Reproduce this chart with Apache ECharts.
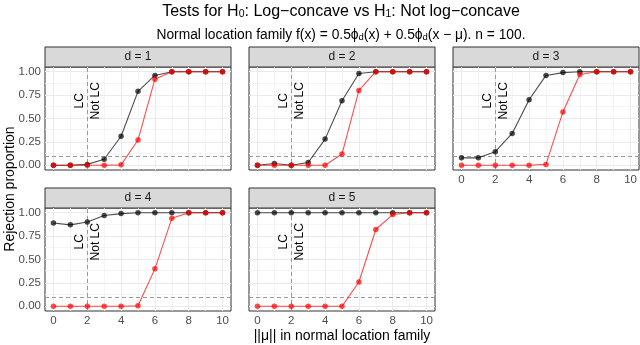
<!DOCTYPE html>
<html>
<head>
<meta charset="utf-8">
<script src="https://cdn.jsdelivr.net/npm/echarts@6/dist/echarts.min.js"></script>
<style>
  html, body { margin: 0; padding: 0; background: #fff; }
  #chart { width: 640px; height: 345px; }
</style>
</head>
<body>
<div id="chart"></div>
<script>
// ||mu|| values
const mu = [0, 1, 2, 3, 4, 5, 6, 7, 8, 9, 10]
const panelNames = ['d = 1', 'd = 2', 'd = 3', 'd = 4', 'd = 5']
// black test / red test rejection proportions
const d1Black = [0, 0, 0.01, 0.065, 0.31, 0.79, 0.96, 1, 1, 1, 1]
const d1Red = [0, 0, 0, 0, 0.005, 0.27, 0.92, 1, 1, 1, 1]
const d2Black = [0, 0.02, 0, 0.03, 0.28, 0.69, 0.98, 1, 1, 1, 1]
const d2Red = [0, 0, 0, 0, 0, 0.12, 0.8, 1, 1, 1, 1]
const d3Black = [0.08, 0.08, 0.145, 0.34, 0.7, 0.96, 0.99, 1, 1, 1, 1]
const d3Red = [0, 0, 0, 0, 0, 0.01, 0.57, 0.97, 1, 1, 1]
const d4Black = [0.89, 0.87, 0.9, 0.97, 0.99, 1, 1, 1, 1, 1, 1]
const d4Red = [0, 0, 0, 0, 0, 0.005, 0.4, 0.94, 1, 1, 1]
const d5Black = [1, 1, 1, 1, 1, 1, 1, 1, 1, 1, 1]
const d5Red = [0, 0, 0, 0, 0, 0, 0.26, 0.82, 0.98, 1, 1]
const blackSets = [d1Black, d2Black, d3Black, d4Black, d5Black]
const redSets = [d1Red, d2Red, d3Red, d4Red, d5Red]
const xTicks = [0, 2, 4, 6, 8, 10]
const xMinor = [1, 3, 5, 7, 9]
const yTicks = [0, 0.25, 0.5, 0.75, 1]
const yMinor = [0.125, 0.375, 0.625, 0.875]
const cutoff = 2      // LC / Not LC boundary
const level = 0.1     // nominal level

const FONT = '"Liberation Sans", Arial, sans-serif'
const pos = [[45, 67], [249, 67], [453, 67], [45, 208], [249, 208]]
const W = 186
const H = 103
const showX = [false, false, true, true, true]
const showY = [true, false, false, true, false]

const chart = echarts.init(document.getElementById('chart'))

const grids = pos.map(p => ({
  left: p[0], top: p[1], width: W, height: H,
  show: true, backgroundColor: '#fff', borderColor: '#333', borderWidth: 1
}))

const xAxes = pos.map((p, i) => ({
  type: 'value', gridIndex: i, min: -0.5, max: 10.5,
  splitLine: { show: false },
  axisLine: { show: true, lineStyle: { color: '#333', width: 1 } },
  axisTick: { show: showX[i], length: 3, customValues: xTicks, lineStyle: { color: '#333' } },
  axisLabel: { show: showX[i], customValues: xTicks, margin: 4, color: '#4d4d4d', fontSize: 11.5, fontFamily: FONT }
}))

const yAxes = pos.map((p, i) => ({
  type: 'value', gridIndex: i, min: -0.05, max: 1.05,
  splitLine: { show: false },
  axisLine: { show: true, lineStyle: { color: '#333', width: 1 } },
  axisTick: { show: showY[i], length: 3, customValues: yTicks, lineStyle: { color: '#333' } },
  axisLabel: {
    show: showY[i], customValues: yTicks, margin: 4, color: '#4d4d4d', fontSize: 11.5, fontFamily: FONT,
    formatter: v => v.toFixed(2)
  }
}))

function testSeries (i, values, color, z) {
  return {
    type: 'line', xAxisIndex: i, yAxisIndex: i, z: z,
    data: mu.map((x, k) => [x, values[k]]),
    symbol: 'circle', symbolSize: 5.5, showAllSymbol: true,
    lineStyle: { color: color, width: 1.1 },
    itemStyle: { color: color, borderWidth: 0, borderColor: color, opacity: 1 },
    emphasis: { disabled: true }
  }
}

const series = []
pos.forEach((p, i) => {
  const major = { color: '#ebebeb', width: 1, type: 'solid' }
  const minor = { color: '#f3f3f3', width: 0.8, type: 'solid' }
  const ref = { color: '#9a9a9a', width: 1, type: [4, 3] }
  const lines = []
  xMinor.forEach(v => lines.push({ xAxis: v, lineStyle: minor }))
  yMinor.forEach(v => lines.push({ yAxis: v, lineStyle: minor }))
  xTicks.forEach(v => lines.push({ xAxis: v, lineStyle: major }))
  yTicks.forEach(v => lines.push({ yAxis: v, lineStyle: major }))
  lines.push({ yAxis: level, lineStyle: ref })
  lines.push({ xAxis: cutoff, lineStyle: ref })
  series.push({
    type: 'line', xAxisIndex: i, yAxisIndex: i, data: [], z: 1,
    markLine: { z: 1, silent: true, symbol: ['none', 'none'], label: { show: false }, animation: false, data: lines }
  })
  series.push(testSeries(i, blackSets[i], 'rgba(0,0,0,0.7)', 6))
  series.push(testSeries(i, redSets[i], 'rgba(255,0,0,0.7)', 7))
})

const sub = { fontSize: 10, verticalAlign: 'bottom', fontFamily: FONT, fill: '#000' }
const graphics = [
  {
    type: 'text', x: 341, y: 12,
    style: {
      text: 'Tests for H{s|0}: Log\u2212concave vs H{s|1}: Not log\u2212concave',
      rich: { s: Object.assign({}, sub, { fontSize: 10.5 }) },
      fontSize: 16, fontFamily: FONT, fill: '#000', align: 'center', verticalAlign: 'middle'
    }
  },
  {
    type: 'text', x: 341, y: 35,
    style: {
      text: 'Normal location family f(x) = 0.5\u03d5{s|d}(x) + 0.5\u03d5{s|d}(x \u2212 \u03bc). n = 100.',
      rich: { s: Object.assign({}, sub, { fontSize: 9.5 }) },
      fontSize: 13.8, fontFamily: FONT, fill: '#000', align: 'center', verticalAlign: 'middle'
    }
  },
  {
    type: 'text', x: 10, y: 189, rotation: Math.PI / 2,
    style: { text: 'Rejection proportion', fontSize: 14, fontFamily: FONT, fill: '#000', align: 'center', verticalAlign: 'middle' }
  },
  {
    type: 'text', x: 342, y: 336,
    style: { text: '||\u03bc|| in normal location family', fontSize: 14, fontFamily: FONT, fill: '#000', align: 'center', verticalAlign: 'middle' }
  }
]
pos.forEach((p, i) => {
  graphics.push({
    type: 'rect', shape: { x: p[0], y: p[1] - 20, width: W, height: 20 },
    style: { fill: '#d9d9d9', stroke: '#333', lineWidth: 1 }
  })
  graphics.push({
    type: 'text', x: p[0] + W / 2, y: p[1] - 10,
    style: { text: panelNames[i], fontSize: 12, fontFamily: FONT, fill: '#1a1a1a', align: 'center', verticalAlign: 'middle' }
  })
})

const option = {
  animation: false,
  grid: grids,
  xAxis: xAxes,
  yAxis: yAxes,
  series: series,
  graphic: graphics
}
chart.setOption(option)

// LC / Not LC annotations beside the cutoff line
const notes = []
pos.forEach((p, i) => {
  const pt = chart.convertToPixel({ gridIndex: i }, [cutoff, 0.69])
  notes.push({
    type: 'text', x: pt[0] - 7.5, y: pt[1], rotation: Math.PI / 2, z: 10,
    style: { text: 'LC', fontSize: 12, fontFamily: FONT, fill: '#000', align: 'center', verticalAlign: 'middle' }
  })
  notes.push({
    type: 'text', x: pt[0] + 8, y: pt[1], rotation: Math.PI / 2, z: 10,
    style: { text: 'Not LC', fontSize: 12, fontFamily: FONT, fill: '#000', align: 'center', verticalAlign: 'middle' }
  })
})
chart.setOption({ graphic: graphics.concat(notes) })
</script>
</body>
</html>
